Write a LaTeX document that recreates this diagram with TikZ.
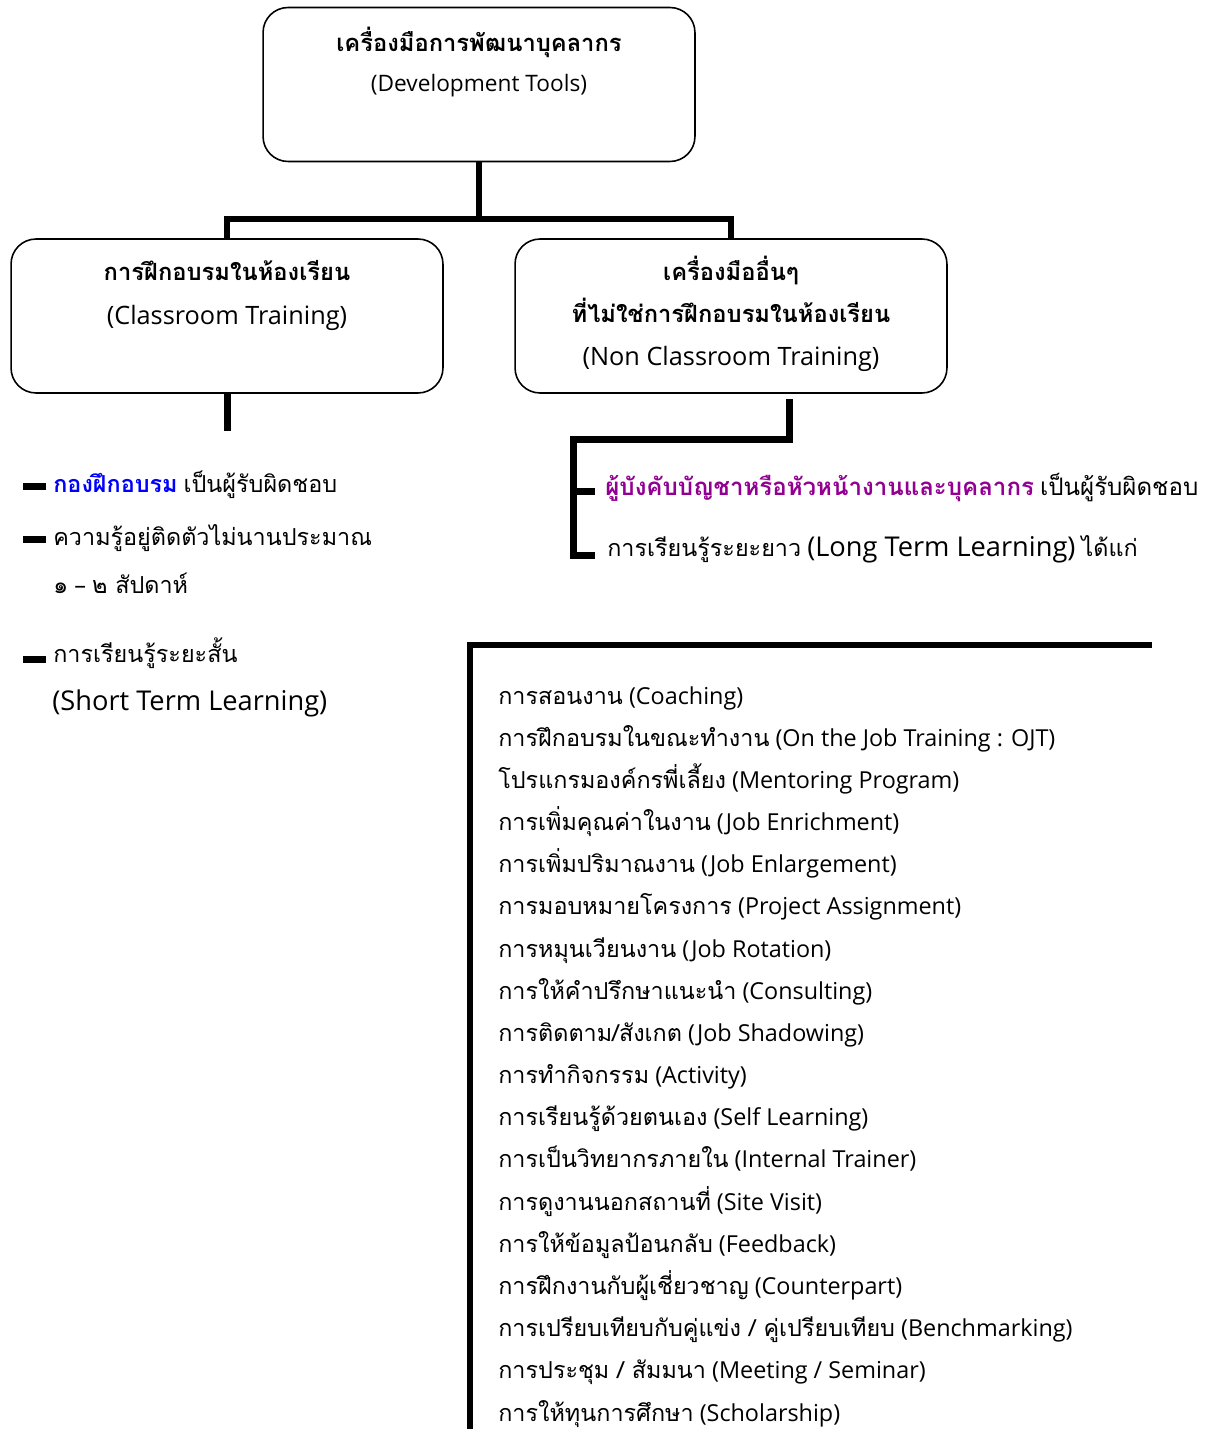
\documentclass[tikz,border=0pt]{standalone}
\usepackage{fontspec}
\setmainfont{Open Sans}
\newfontfamily\thaifont[Script=Thai]{Loma}
\newcommand{\tha}[1]{{\thaifont #1}}
\usetikzlibrary{positioning}
\definecolor{unitblue}{RGB}{0,0,255}
\definecolor{headpurple}{RGB}{146,0,146}

\begin{document}
\begin{tikzpicture}[x=0.02cm, y=-0.02cm,
  toolbox/.style={draw, line width=0.9pt, rounded corners=0.5cm, minimum width=8.64cm, minimum height=3.08cm},
  branch/.style={line width=0.12cm},
  bulletbar/.style={line width=0.14cm},
  boxtitle/.style={anchor=base, inner sep=0pt, font=\bfseries\fontsize{13.5}{16}\selectfont},
  boxeng/.style={anchor=base, inner sep=0pt, font=\fontsize{14.4}{17}\selectfont},
  note/.style={anchor=base west, inner sep=0pt, font=\fontsize{13.3}{16}\selectfont},
  listitem/.style={anchor=base west, inner sep=0pt, font=\fontsize{13.3}{16}\selectfont}]
  \useasboundingbox (0,0) rectangle (1213,1429);

  %% tree of tools
  \node[toolbox] (tools) at (479,84.5) {};
  \node[toolbox] (classroom) at (227,316) {};
  \node[toolbox] (nonclass) at (731,316) {};

  \node[boxtitle] (toolsth) at (479,52) {\tha{เครื่องมือการพัฒนาบุคลากร}};
  \node[boxeng, font=\fontsize{12.9}{15}\selectfont] (toolsen) at (479,92) {(Development Tools)};

  \node[boxtitle] (classth) at (227,281) {\tha{การฝึกอบรมในห้องเรียน}};
  \node[boxeng] (classen) at (227,324) {(Classroom Training)};

  \node[boxtitle] (nonth) at (731,281) {\tha{เครื่องมืออื่นๆ}};
  \node[boxtitle] (nonthtwo) at (731,322) {\tha{ที่ไม่ใช่การฝึกอบรมในห้องเรียน}};
  \node[boxeng] (nonen) at (731,365) {(Non Classroom Training)};

  \draw[branch] (tools.south) -- ++(0,57) -| (classroom.north);
  \draw[branch] (tools.south) -- ++(0,57) -| (nonclass.north);

  %% classroom side
  \draw[branch, line width=0.14cm] (classroom.south) -- ++(0,37);

  \node[note] (duty) at (53,492) {\textcolor{unitblue}{\tha{\bfseries กองฝึกอบรม}} \tha{เป็นผู้รับผิดชอบ}};
  \node[note] (memory) at (53,545) {\tha{ความรู้อยู่ติดตัวไม่นานประมาณ}};
  \node[note] (weeks) at (53,593) {\tha{๑} – \tha{๒ สัปดาห์}};
  \node[note] (short) at (53,662) {\tha{การเรียนรู้ระยะสั้น}};
  \node[note, font=\fontsize{15.5}{18}\selectfont] (shortterm) at (52,710) {(Short Term Learning)};

  \foreach \n/\dy in {duty/6, memory/6, short/3}
    \draw[bulletbar] (\n.base west) ++(-30,-\dy) -- ++(23,0);

  %% non classroom side
  \node[note, font=\fontsize{13.7}{16}\selectfont] (boss) at (605,495) {\textcolor{headpurple}{\tha{\bfseries ผู้บังคับบัญชาหรือหัวหน้างานและบุคลากร}} \tha{เป็นผู้รับผิดชอบ}};
  \node[note] (longterm) at (607,556) {\tha{การเรียนรู้ระยะยาว} {\fontsize{15.5}{18}\selectfont(Long Term Learning)} \tha{ได้แก่}};

  \coordinate (longstub) at (789,399);
  \coordinate (longcorner) at (573,439);
  \draw[branch, line width=0.14cm] (longstub) |- (longcorner) |- ([xshift=-0.24cm, yshift=0.02cm]longterm.base west);
  \draw[branch, line width=0.14cm] (longcorner |- boss.base west) ++(0,-4) -- ++(22,0);

  %% long term list
  \coordinate (listend) at (1152,645);
  \coordinate (listcorner) at (470,645);
  \coordinate (listfoot) at (470,1429);
  \draw[branch] (listend) -- (listcorner) -- (listfoot);

  \foreach \item [count=\i from 0] in {
    {\tha{การสอนงาน} (Coaching)},
    {\tha{การฝึกอบรมในขณะทำงาน} (On the Job Training : OJT)},
    {\tha{โปรแกรมองค์กรพี่เลี้ยง} (Mentoring Program)},
    {\tha{การเพิ่มคุณค่าในงาน} (Job Enrichment)},
    {\tha{การเพิ่มปริมาณงาน} (Job Enlargement)},
    {\tha{การมอบหมายโครงการ} (Project Assignment)},
    {\tha{การหมุนเวียนงาน} (Job Rotation)},
    {\tha{การให้คำปรึกษาแนะนำ} (Consulting)},
    {\tha{การติดตาม/สังเกต} (Job Shadowing)},
    {\tha{การทำกิจกรรม} (Activity)},
    {\tha{การเรียนรู้ด้วยตนเอง} (Self Learning)},
    {\tha{การเป็นวิทยากรภายใน} (Internal Trainer)},
    {\tha{การดูงานนอกสถานที่} (Site Visit)},
    {\tha{การให้ข้อมูลป้อนกลับ} (Feedback)},
    {\tha{การฝึกงานกับผู้เชี่ยวชาญ} (Counterpart)},
    {\tha{การเปรียบเทียบกับคู่แข่ง / คู่เปรียบเทียบ} (Benchmarking)},
    {\tha{การประชุม / สัมมนา} (Meeting / Seminar)},
    {\tha{การให้ทุนการศึกษา} (Scholarship)}}
    \node[listitem] (act\i) at (498,{704+42.18*\i}) {\item};
\end{tikzpicture}
\end{document}
